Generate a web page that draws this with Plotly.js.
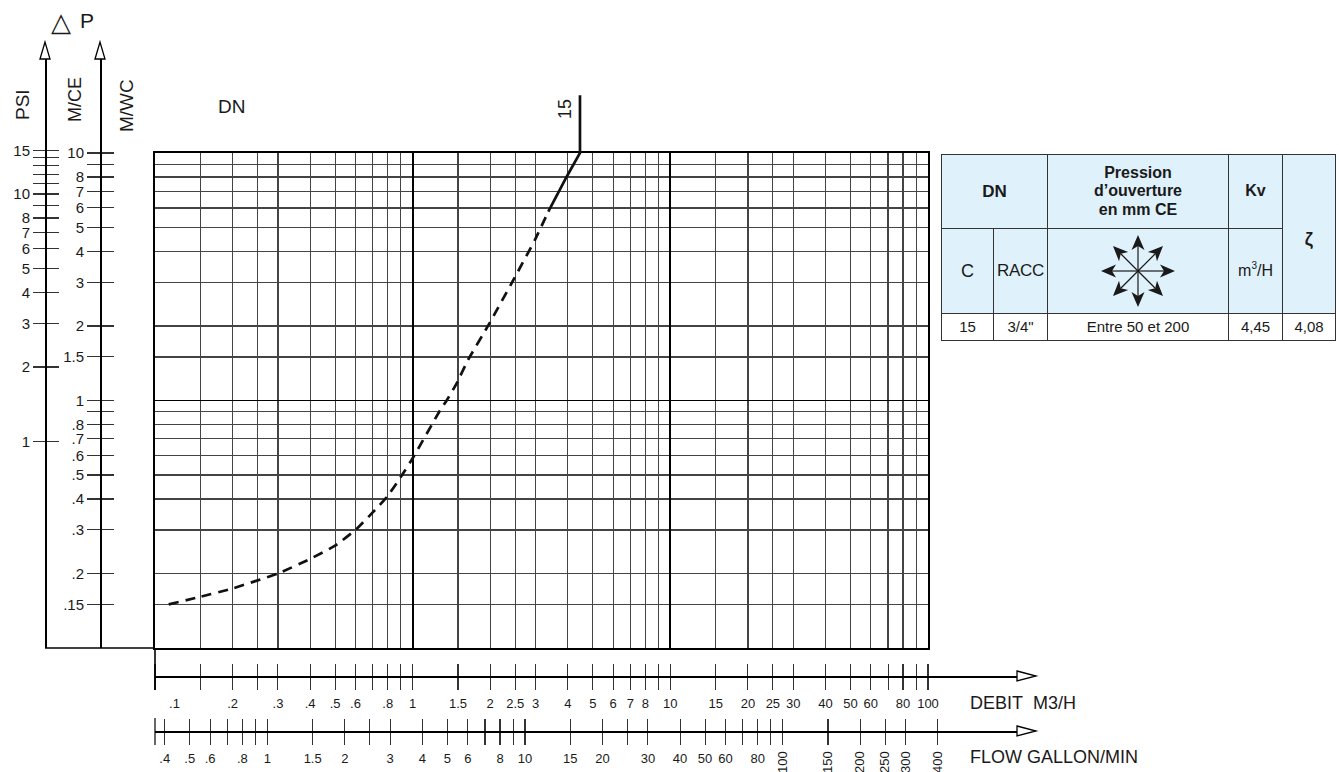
<!DOCTYPE html>
<html>
<head>
<meta charset="utf-8">
<script src="https://cdn.plot.ly/plotly-3.0.1.min.js"></script>
<style>
  html, body { margin: 0; padding: 0; background: #fff; }
  #wrap { position: relative; width: 1339px; height: 772px; overflow: hidden; }
  #chart { position: absolute; left: 0; top: 0; width: 1339px; height: 772px; }
  .cell { position: absolute; box-sizing: border-box; border: 1px solid #333; background: #dff1fa;
          display: flex; align-items: center; justify-content: center; text-align: center;
          font-family: 'Liberation Sans', Arial, Helvetica, sans-serif; color: #1a1a1a; line-height: 1.13; }
  .cell.b { font-weight: bold; font-size: 16px; }
  .cell.w { background: #fff; font-size: 15px; }
  .cell .unit { font-size: 16px; white-space: nowrap; }
  .cell .unit sup { font-size: 10px; position: relative; top: -1px; vertical-align: super; line-height: 0; }
</style>
</head>
<body>
<div id="wrap">
  <div id="chart"></div>
  <div id="table"></div>
</div>
<script>
// ---------------- data ----------------
// pressure-drop curve, DN 15 (flow in m3/h, pressure drop in m water column)
const flowDashed = [0.113, 0.15, 0.2, 0.3, 0.4, 0.5, 0.6, 0.7, 0.8, 0.9, 1.0, 1.28, 1.355, 1.48, 1.64, 1.97, 2.46, 2.98, 3.36];
const dpDashed   = [0.15, 0.161, 0.174, 0.2, 0.229, 0.259, 0.30, 0.353, 0.411, 0.492, 0.584, 0.916, 1.0, 1.17, 1.458, 2.02, 3.07, 4.45, 5.79];
const flowSolid  = [3.36, 3.96, 4.46, 4.46];
const dpSolid    = [5.79, 8.02, 10, 17.1];
const curveLabel = '15';

// grid
const gridMajorX = [0.1, 1, 10, 100];
const gridMinorX = [0.15, 0.2, 0.25, 0.3, 0.4, 0.5, 0.6, 0.7, 0.8, 0.9,
                    1.5, 2, 2.5, 3, 4, 5, 6, 7, 8, 9,
                    15, 20, 25, 30, 40, 50, 60, 70, 80, 90];
const gridMajorY = [0.1, 1, 10];
const gridMinorY = [0.15, 0.2, 0.3, 0.4, 0.5, 0.6, 0.7, 0.8, 0.9, 1.5, 2, 3, 4, 5, 6, 7, 8, 9];

// left scales
const mceTicks  = [0.15, 0.2, 0.3, 0.4, 0.5, 0.6, 0.7, 0.8, 0.9, 1, 1.5, 2, 3, 4, 5, 6, 7, 8, 9, 10];
const mceLabels = ['.15', '.2', '.3', '.4', '.5', '.6', '.7', '.8', '', '1', '1.5', '2', '3', '4', '5', '6', '7', '8', '', '10'];
const psiTicks  = [1, 2, 3, 4, 5, 6, 7, 8, 9, 10, 11, 12, 13, 14, 15];
const psiLabels = ['1', '2', '3', '4', '5', '6', '7', '8', '', '10', '', '', '', '', '15'];

// bottom scales
const debitTicks  = [0.1, 0.15, 0.2, 0.25, 0.3, 0.4, 0.5, 0.6, 0.7, 0.8, 0.9, 1, 1.5, 2, 2.5, 3, 4, 5, 6, 7, 8, 9,
                     10, 15, 20, 25, 30, 40, 50, 60, 70, 80, 90, 100];
const debitLabels = ['\u2003\u2003\u2003.1', '', '.2', '', '.3', '.4', '.5', '.6', '', '.8', '', '1', '1.5', '2', '2.5', '3', '4', '5', '6', '7', '8', '',
                     '10', '15', '20', '25', '30', '40', '50', '60', '', '80', '', '100'];
const flowTicks   = [0.4, 0.5, 0.6, 0.7, 0.8, 0.9, 1, 1.5, 2, 2.5, 3, 4, 5, 6, 7, 8, 9,
                     10, 15, 20, 25, 30, 40, 50, 60, 70, 80, 90, 100, 150, 200, 250, 300, 400];
const flowLabels  = ['.4', '.5', '.6', '', '.8', '', '1', '1.5', '2', '', '3', '4', '5', '6', '', '8', '',
                     '10', '15', '20', '', '30', '40', '50', '60', '', '80', '', '', '', '', '', '', ''];
const flowRotTicks  = [100, 150, 200, 250, 300, 400];
const flowRotLabels = ['100', '150', '200', '250', '300', '400'];

const M3H_TO_GPM = 3.666;   // imperial gallons / min per m3/h
const PSI_TO_M   = 0.683;   // metres of water per psi, as drawn

// table
const tableHeader = ['DN', 'Pression<br>d\u2019ouverture<br>en mm CE', 'Kv', '\u03b6'];
const tableSub    = ['C', 'RACC', '', '<span class="unit">m<sup>3</sup>/H</span>'];
const tableRow    = ['15', '3/4"', 'Entre 50 et 200', '4,45', '4,08'];

// ---------------- geometry ----------------
const W = 1339, H = 772;
const X0 = 155, X1 = 928, YT = 153, YB = 648;
const XDEC = (X1 - X0) / 3, YDEC = (YB - YT) / 2;
const AX_END = 1017, LEFT_TOP = 59;
const fx = p => p / W, fy = p => 1 - p / H;
const lg = Math.log10;
const FONT = 'Liberation Sans, Arial, Helvetica, sans-serif';
const INK = '#1a1a1a';
const GRID = '#444';

function hidden(extra) {
  return Object.assign({ visible: false, showgrid: false, zeroline: false, fixedrange: true }, extra);
}
function scaleAxis(extra) {
  return Object.assign({ type: 'log', anchor: 'free', tickmode: 'array', showgrid: false, zeroline: false,
    tickcolor: '#333', tickwidth: 1.1, linecolor: '#000', linewidth: 1.5, fixedrange: true }, extra);
}

const debitRange = [-1, -1 + (AX_END - X0) / XDEC];
const flowStart = lg(0.1 * M3H_TO_GPM);
const flowRange = [flowStart, flowStart + (AX_END - X0) / XDEC];
const mceRange = [-1, -1 + (YB - LEFT_TOP) / YDEC];
const psiStart = -1 - lg(PSI_TO_M);
const psiRange = [psiStart, psiStart + (YB - LEFT_TOP) / YDEC];
const bottomDomain = [fx(X0), fx(AX_END)];
const leftDomain = [fy(YB), fy(LEFT_TOP)];

const dummy = (xa, ya) => ({ type: 'scatter', mode: 'lines', x: [], y: [], xaxis: xa, yaxis: ya, hoverinfo: 'skip', showlegend: false });

const traces = [
  dummy('x', 'y'),
  { type: 'scatter', mode: 'lines', x: flowDashed, y: dpDashed, xaxis: 'x2', yaxis: 'y5', hoverinfo: 'skip',
    line: { color: '#111', width: 2.7, dash: '10px,7px', shape: 'spline', smoothing: 0.4 } },
  { type: 'scatter', mode: 'lines', x: flowSolid, y: dpSolid, xaxis: 'x2', yaxis: 'y5', hoverinfo: 'skip',
    line: { color: '#111', width: 2.7 } },
  dummy('x3', 'y9'), dummy('x4', 'y9'), dummy('x5', 'y9'), dummy('x6', 'y9'), dummy('x7', 'y9'),
  dummy('x9', 'y2'), dummy('x9', 'y3'), dummy('x9', 'y4'), dummy('x9', 'y6')
];

const L = (x0, y0, x1, y1, w) => ({ type: 'line', xref: 'paper', yref: 'paper', x0: fx(x0), y0: fy(y0), x1: fx(x1), y1: fy(y1),
  line: { color: '#000', width: w || 1.5 } });
const tri = pts => ({ type: 'path', xref: 'paper', yref: 'paper',
  path: 'M' + pts.map(p => fx(p[0]) + ',' + fy(p[1])).join(' L') + ' Z', fillcolor: '#fff', line: { color: '#000', width: 1.3 } });
const ann = (text, x, y, size, opts) => Object.assign({ text: text, xref: 'paper', yref: 'paper', x: fx(x), y: fy(y),
  xanchor: 'center', yanchor: 'middle', showarrow: false, font: { family: FONT, size: size, color: INK } }, opts || {});

const TL = 13; // half tick length (ticks cross the scale lines)

const layout = {
  width: W, height: H, autosize: false,
  margin: { l: 0, r: 0, t: 0, b: 0, pad: 0 },
  paper_bgcolor: '#fff', plot_bgcolor: 'rgba(0,0,0,0)',
  showlegend: false,
  font: { family: FONT, color: INK, size: 13 },
  xaxis: { type: 'log', domain: [fx(X0), fx(X1)], range: [-1, 2], anchor: 'y', tickmode: 'array', tickvals: gridMajorX,
    showticklabels: false, ticks: '', showgrid: true, gridcolor: '#000', gridwidth: 1.9,
    showline: true, mirror: true, linecolor: '#000', linewidth: 1.6, zeroline: false, fixedrange: true,
    minor: { tickmode: 'array', tickvals: gridMinorX, showgrid: true, gridcolor: GRID, gridwidth: 1.2, ticks: '' } },
  yaxis: { type: 'log', domain: [fy(YB), fy(YT)], range: [-1, 1], anchor: 'x', tickmode: 'array', tickvals: gridMajorY,
    showticklabels: false, ticks: '', showgrid: true, gridcolor: '#000', gridwidth: 1.9,
    showline: true, mirror: true, linecolor: '#000', linewidth: 1.6, zeroline: false, fixedrange: true,
    minor: { tickmode: 'array', tickvals: gridMinorY, showgrid: true, gridcolor: GRID, gridwidth: 1.2, ticks: '' } },
  xaxis2: hidden({ type: 'log', domain: [fx(X0), fx(X1)], range: [-1, 2], anchor: 'y5' }),
  yaxis5: hidden({ type: 'log', domain: [fy(YB), fy(90)], range: [-1, -1 + (YB - 90) / YDEC], anchor: 'x2' }),
  xaxis9: hidden({ domain: [0, 1], range: [0, 1], anchor: 'y9' }),
  yaxis9: hidden({ domain: [0, 1], range: [0, 1], anchor: 'x9' }),
  // DEBIT m3/h : ticks (x3) start above the line and cross it; line drawn by x4
  xaxis3: scaleAxis({ position: fy(676 - TL), domain: bottomDomain, range: debitRange, tickvals: debitTicks, ticktext: debitLabels,
    ticks: 'outside', ticklen: 2 * TL, showline: false, tickfont: { size: 13 }, ticklabelstandoff: 2 }),
  xaxis4: scaleAxis({ position: fy(676), domain: bottomDomain, range: debitRange, tickvals: debitTicks,
    ticks: '', showline: true, showticklabels: false }),
  // FLOW gallon/min
  xaxis5: scaleAxis({ position: fy(731 - TL), domain: bottomDomain, range: flowRange, tickvals: flowTicks, ticktext: flowLabels,
    ticks: 'outside', ticklen: 2 * TL, showline: false, tickfont: { size: 13 }, ticklabelstandoff: 2 }),
  xaxis6: scaleAxis({ position: fy(731), domain: bottomDomain, range: flowRange, tickvals: flowTicks,
    ticks: '', showline: true, showticklabels: false }),
  xaxis7: scaleAxis({ position: fy(731 - TL), domain: bottomDomain, range: flowRange, tickvals: flowRotTicks, ticktext: flowRotLabels,
    ticks: 'outside', ticklen: 2 * TL, tickcolor: 'rgba(0,0,0,0)', showline: false, tickangle: -90, tickfont: { size: 13 }, ticklabelstandoff: 1 }),
  // M/CE : ticks from 87 to 114, line at 100
  yaxis2: scaleAxis({ position: fx(114), domain: leftDomain, range: mceRange, tickvals: mceTicks, ticktext: mceLabels,
    ticks: 'outside', ticklen: 27, showline: false, tickfont: { size: 15 }, ticklabelstandoff: 0 }),
  yaxis3: scaleAxis({ position: fx(100), domain: leftDomain, range: mceRange, tickvals: mceTicks,
    ticks: '', showline: true, showticklabels: false }),
  // PSI : ticks from 33 to 59, line at 45
  yaxis4: scaleAxis({ position: fx(59), domain: leftDomain, range: psiRange, tickvals: psiTicks, ticktext: psiLabels,
    ticks: 'outside', ticklen: 26, showline: false, tickfont: { size: 15 }, ticklabelstandoff: 0 }),
  yaxis6: scaleAxis({ position: fx(45), domain: leftDomain, range: psiRange, tickvals: psiTicks,
    ticks: '', showline: true, showticklabels: false }),
  shapes: [
    L(45, YB, X0, YB, 1.6),
    L(X0, YB, X0, 690, 1.6),
    L(X0, 718, X0, 745, 1.2),
    tri([[40, LEFT_TOP], [45, 42], [50, LEFT_TOP]]),
    tri([[95, LEFT_TOP], [100, 42], [105, LEFT_TOP]]),
    tri([[AX_END, 671], [1036, 676], [AX_END, 681]]),
    tri([[AX_END, 726], [1036, 731], [AX_END, 736]])
  ],
  annotations: [
    ann('\u25b3', 61, 22, 26),
    ann('P', 87, 21, 21),
    ann('PSI', 22, 105, 19, { textangle: -90 }),
    ann('M/CE', 75, 100, 18, { textangle: -90 }),
    ann('M/WC', 126, 106, 19, { textangle: -90 }),
    ann('DN', 231, 106, 19),
    ann(curveLabel, 565, 109, 18, { textangle: -90 }),
    ann('DEBIT\u00a0\u00a0M3/H', 968, 703, 18, { xanchor: 'left' }),
    ann('FLOW GALLON/MIN', 968, 757, 18, { xanchor: 'left' })
  ]
};

Plotly.newPlot('chart', traces, layout, { staticPlot: true, displayModeBar: false });

// ---------------- table ----------------
(function buildTable() {
  const host = document.getElementById('table');
  const cols = [941, 993, 1047, 1228, 1282, 1335];
  const rows = [154, 228, 313, 340];
  function cell(x0, y0, x1, y1, html, cls, style) {
    const d = document.createElement('div');
    d.className = 'cell ' + (cls || '');
    d.style.left = x0 + 'px'; d.style.top = y0 + 'px';
    d.style.width = (x1 - x0 + 1) + 'px'; d.style.height = (y1 - y0 + 1) + 'px';
    if (style) Object.assign(d.style, style);
    d.innerHTML = html;
    host.appendChild(d);
    return d;
  }
  cell(cols[0], rows[0], cols[2], rows[1], tableHeader[0], 'b', { fontSize: '17px' });
  cell(cols[2], rows[0], cols[3], rows[1], tableHeader[1], 'b');
  cell(cols[3], rows[0], cols[4], rows[1], tableHeader[2], 'b');
  cell(cols[4], rows[0], cols[5], rows[2], tableHeader[3], 'b', { fontSize: '18px', paddingTop: '10px' });
  cell(cols[0], rows[1], cols[1], rows[2], tableSub[0], '', { fontSize: '18px' });
  cell(cols[1], rows[1], cols[2], rows[2], tableSub[1], '', { fontSize: '17px', letterSpacing: '-0.3px' });
  const icon = cell(cols[2], rows[1], cols[3], rows[2], '', '');
  cell(cols[3], rows[1], cols[4], rows[2], tableSub[3], '');
  for (let i = 0; i < tableRow.length; i++) {
    cell(cols[i], rows[2], cols[i + 1], rows[3], tableRow[i], 'w');
  }
  // eight-way arrow icon
  const cx = 90, cy = 42;
  const dirs = [[37, 0], [-37, 0], [0, -36], [0, 36], [25, -25], [-25, -25], [25, 25], [-25, 25]];
  let svg = '<svg width="181" height="85" style="position:absolute;left:0;top:0" xmlns="http://www.w3.org/2000/svg">';
  dirs.forEach(d => {
    const len = Math.hypot(d[0], d[1]);
    const ux = d[0] / len, uy = d[1] / len;
    const tx = cx + d[0], ty = cy + d[1];
    const bx = tx - ux * 15, by = ty - uy * 15;
    const nx = -uy * 6.5, ny = ux * 6.5;
    svg += '<line x1="' + cx + '" y1="' + cy + '" x2="' + (bx + ux * 4) + '" y2="' + (by + uy * 4) + '" stroke="#1a1a1a" stroke-width="1.2"/>';
    svg += '<polygon points="' + tx + ',' + ty + ' ' + (bx + nx) + ',' + (by + ny) + ' ' + (bx + ux * 4) + ',' + (by + uy * 4) + ' ' + (bx - nx) + ',' + (by - ny) + '" fill="#1a1a1a"/>';
  });
  svg += '</svg>';
  icon.style.position = 'absolute';
  icon.innerHTML = svg;
})();
</script>
</body>
</html>
